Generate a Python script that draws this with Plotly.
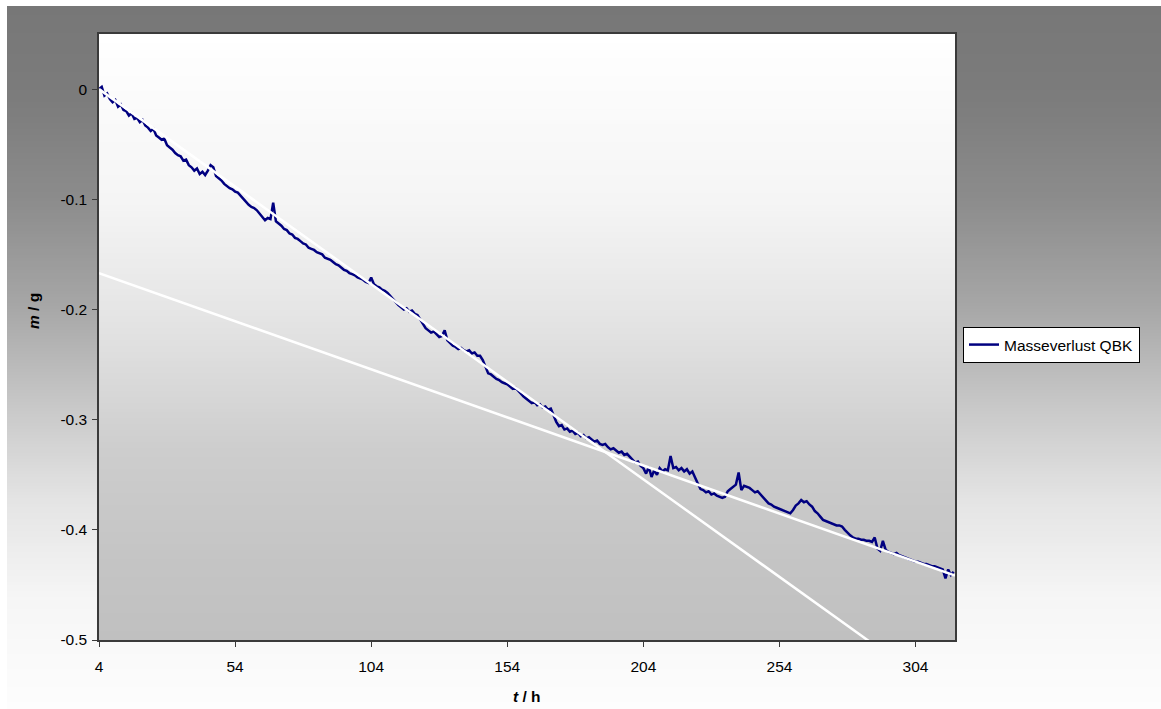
import plotly.graph_objects as go

# Mass change of the QBK sample, one reading per hour
t_hours = list(range(4, 319))
mass_g = [
    0.000, 0.002, -0.006, -0.004, -0.009, -0.012, -0.010, -0.016, -0.014, -0.019,
    -0.020, -0.024, -0.022, -0.027, -0.026, -0.030, -0.028, -0.033, -0.035, -0.038,
    -0.036, -0.042, -0.044, -0.046, -0.045, -0.051, -0.053, -0.055, -0.058, -0.060,
    -0.061, -0.065, -0.064, -0.069, -0.071, -0.074, -0.072, -0.077, -0.075, -0.078,
    -0.074, -0.069, -0.071, -0.079, -0.081, -0.083, -0.086, -0.088, -0.090, -0.091,
    -0.093, -0.094, -0.097, -0.099, -0.102, -0.105, -0.107, -0.108, -0.110, -0.113,
    -0.116, -0.119, -0.117, -0.118, -0.103, -0.120, -0.122, -0.124, -0.127, -0.128,
    -0.131, -0.132, -0.135, -0.136, -0.138, -0.140, -0.141, -0.144, -0.145, -0.146,
    -0.148, -0.149, -0.150, -0.153, -0.154, -0.155, -0.157, -0.159, -0.160, -0.162,
    -0.164, -0.165, -0.167, -0.168, -0.169, -0.171, -0.172, -0.173, -0.175, -0.176,
    -0.171, -0.177, -0.179, -0.180, -0.182, -0.183, -0.185, -0.188, -0.190, -0.193,
    -0.196, -0.198, -0.200, -0.199, -0.202, -0.201, -0.204, -0.205, -0.209, -0.214,
    -0.217, -0.219, -0.221, -0.220, -0.223, -0.225, -0.224, -0.219, -0.228, -0.231,
    -0.233, -0.234, -0.236, -0.235, -0.237, -0.238, -0.237, -0.240, -0.239, -0.242,
    -0.242, -0.246, -0.252, -0.258, -0.259, -0.261, -0.263, -0.264, -0.266, -0.267,
    -0.268, -0.270, -0.272, -0.271, -0.274, -0.276, -0.279, -0.281, -0.283, -0.285,
    -0.284, -0.287, -0.286, -0.289, -0.288, -0.291, -0.290, -0.296, -0.302, -0.306,
    -0.305, -0.309, -0.308, -0.311, -0.310, -0.313, -0.312, -0.315, -0.314, -0.317,
    -0.316, -0.318, -0.320, -0.319, -0.322, -0.323, -0.322, -0.325, -0.327, -0.326,
    -0.328, -0.330, -0.329, -0.332, -0.331, -0.334, -0.336, -0.339, -0.338, -0.342,
    -0.344, -0.349, -0.343, -0.352, -0.346, -0.350, -0.344, -0.347, -0.345, -0.346,
    -0.333, -0.344, -0.343, -0.346, -0.344, -0.347, -0.345, -0.349, -0.347, -0.353,
    -0.358, -0.363, -0.364, -0.366, -0.365, -0.368, -0.367, -0.369, -0.370, -0.371,
    -0.370, -0.365, -0.363, -0.361, -0.359, -0.348, -0.364, -0.360, -0.361, -0.362,
    -0.364, -0.366, -0.365, -0.368, -0.370, -0.374, -0.376, -0.377, -0.379, -0.380,
    -0.381, -0.382, -0.383, -0.384, -0.385, -0.382, -0.378, -0.376, -0.373, -0.375,
    -0.374, -0.377, -0.379, -0.383, -0.385, -0.388, -0.391, -0.392, -0.393, -0.394,
    -0.395, -0.396, -0.396, -0.397, -0.400, -0.403, -0.405, -0.407, -0.408, -0.408,
    -0.409, -0.409, -0.410, -0.410, -0.411, -0.407, -0.417, -0.419, -0.410, -0.418,
    -0.420, -0.421, -0.422, -0.421, -0.423, -0.424, -0.425, -0.426, -0.427, -0.428,
    -0.429, -0.429, -0.430, -0.431, -0.431, -0.432, -0.433, -0.433, -0.434, -0.435,
    -0.436, -0.444, -0.436, -0.441, -0.438,
]

# Linear trend fits: value at t = 4 h and slope in g/h
fit_intercept = [0.0, -0.167]
fit_slope = [-0.001771, -0.000873]
fit_t0 = 4.0

x_range = [4, 318.5]
y_range = [-0.5, 0.05]
x_ticks = [4, 54, 104, 154, 204, 254, 304]
y_ticks = [0, -0.1, -0.2, -0.3, -0.4, -0.5]
y_ticktext = ["0", "-0.1", "-0.2", "-0.3", "-0.4", "-0.5"]

W, H = 1161, 709
ML, MR, MT, MB = 99, 206, 34, 69
PW, PH = W - ML - MR, H - MT - MB

FONT = "Liberation Sans, Arial, sans-serif"


def px_x(px):
    return (px - ML) / PW


def px_y(py):
    return (H - MB - py) / PH


def gray_at(y, stops):
    for (ya, ga), (yb, gb) in zip(stops[:-1], stops[1:]):
        if ya <= y <= yb:
            f = (y - ya) / (yb - ya) if yb > ya else 0
            return ga + (gb - ga) * f
    return stops[-1][1] if y > stops[-1][0] else stops[0][1]


def gradient_bands(x0, x1, y0, y1, stops, step=3):
    out = []
    y = y0
    while y < y1:
        yb = min(y + step, y1)
        g = int(round(gray_at((y + yb) / 2, stops)))
        out.append(dict(
            type="rect", xref="paper", yref="paper", layer="below",
            x0=px_x(x0), x1=px_x(x1), y0=px_y(min(yb + 0.6, y1)), y1=px_y(y),
            fillcolor=f"rgb({g},{g},{g})", line=dict(width=0),
        ))
        y = yb
    return out


# chart-area background: dark grey at the top fading to white
outer_stops = [(6, 119), (100, 124), (200, 140), (300, 165), (400, 198),
               (500, 228), (600, 246), (709, 253)]
# plot-area background: white at the top fading to silver
plot_stops = [(34, 255), (200, 245), (320, 228), (450, 205), (550, 197), (640, 192)]

shapes = gradient_bands(7, W, 6, H, outer_stops, step=3)
shapes += gradient_bands(ML, ML + PW, MT, MT + PH, plot_stops, step=3)

fig = go.Figure()
fig.add_trace(go.Scatter(
    x=t_hours, y=mass_g, mode="lines", name="Masseverlust QBK",
    line=dict(color="#000080", width=2.5),
))
for b, k in zip(fit_intercept, fit_slope):
    tx = [x_range[0], x_range[1]]
    fig.add_trace(go.Scatter(
        x=tx, y=[b + k * (t - fit_t0) for t in tx], mode="lines",
        line=dict(color="white", width=2.5), showlegend=False, hoverinfo="skip",
    ))

axis_common = dict(
    showgrid=False, zeroline=False, showline=True, mirror=True,
    linecolor="#3a3a3a", linewidth=1.5, ticks="outside", ticklen=5,
    tickcolor="#3a3a3a", tickwidth=1,
    tickfont=dict(family=FONT, size=15.5, color="black"),
)

fig.update_layout(
    width=W, height=H,
    margin=dict(l=ML, r=MR, t=MT, b=MB, pad=0),
    paper_bgcolor="white", plot_bgcolor="rgba(0,0,0,0)",
    shapes=shapes,
    xaxis=dict(range=x_range, tickvals=x_ticks, ticklabelstandoff=7, **axis_common),
    yaxis=dict(range=y_range, tickvals=y_ticks, ticktext=y_ticktext,
               ticklabelstandoff=2, **axis_common),
    legend=dict(
        x=px_x(963), y=px_y(327), xanchor="left", yanchor="top",
        bgcolor="white", bordercolor="black", borderwidth=1,
        font=dict(family=FONT, size=15.5, color="black"), itemwidth=30,
        tracegroupgap=0,
    ),
    annotations=[
        dict(text="<b><i>t</i> / h</b>", xref="paper", yref="paper",
             x=0.5, y=px_y(696), xanchor="center", yanchor="middle",
             showarrow=False, font=dict(family=FONT, size=15.5, color="black")),
        dict(text="<b><i>m</i> / g</b>", xref="paper", yref="paper",
             x=px_x(33), y=px_y(311), xanchor="center", yanchor="middle",
             textangle=-90, showarrow=False,
             font=dict(family=FONT, size=15.5, color="black")),
    ],
)

fig.write_html("out.html")
